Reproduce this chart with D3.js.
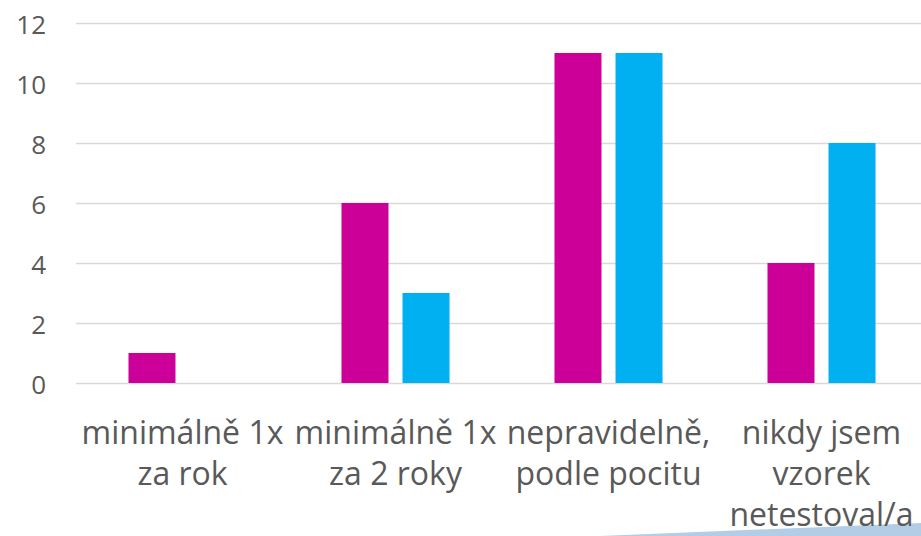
<!DOCTYPE html>
<html>
<head>
<meta charset="utf-8">
<script src="https://cdn.jsdelivr.net/npm/d3@7"></script>
<style>
  html, body { margin: 0; padding: 0; background: #fff; overflow: hidden; }
  text { font-family: "Open Sans", Lato, sans-serif; fill: #595959; }
</style>
</head>
<body>
<div id="chart"></div>
<script>
// data
const categories = [
    ["minimálně 1x", "za rok"],
    ["minimálně 1x", "za 2 roky"],
    ["nepravidelně,", "podle pocitu"],
    ["nikdy jsem", "vzorek", "netestoval/a"]
];
const seriesA = [1, 6, 11, 4];   // magenta
const seriesB = [0, 3, 11, 8];   // cyan
const yTicks = [0, 2, 4, 6, 8, 10, 12];

const width = 921;
const height = 536;
const plotLeft = 76, plotRight = 928, plotTop = 23, plotBottom = 383;

const svg = d3.select("#chart")
    .append("svg")
    .attr("width", width)
    .attr("height", height);

// decorative wedge at the bottom right
svg.append("path")
    .attr("d", "M600,536 L921,523 L921,536 Z")
    .attr("fill", "#b4cde6");

const x = d3.scaleBand()
    .domain(d3.range(categories.length))
    .range([plotLeft, plotRight]);

const inner = d3.scaleBand()
    .domain([0, 1])
    .range([0, x.bandwidth()])
    .paddingInner(0.23)
    .paddingOuter(0.86);

const y = d3.scaleLinear()
    .domain([0, 12])
    .range([plotBottom, plotTop]);

// gridlines
svg.append("g")
    .selectAll("line")
    .data(yTicks)
    .join("line")
    .attr("x1", plotLeft)
    .attr("x2", width)
    .attr("y1", d => Math.round(y(d)) + 0.5)
    .attr("y2", d => Math.round(y(d)) + 0.5)
    .attr("stroke", "#d9d9d9")
    .attr("stroke-width", 1.5);

// y labels
svg.append("g")
    .selectAll("text")
    .data(yTicks)
    .join("text")
    .attr("x", 46)
    .attr("y", d => y(d) + 2)
    .attr("dy", "0.35em")
    .attr("text-anchor", "end")
    .style("font-size", "26px")
    .text(d => d);

// bars
const series = [
    { values: seriesA, color: "#cc0099" },
    { values: seriesB, color: "#00b0f0" }
];
series.forEach((s, si) => {
    svg.append("g")
        .selectAll("rect")
        .data(s.values)
        .join("rect")
        .attr("x", (d, i) => x(i) + inner(si))
        .attr("width", inner.bandwidth())
        .attr("y", d => y(d))
        .attr("height", d => y(0) - y(d))
        .attr("fill", s.color);
});

// category labels
const labels = svg.append("g")
    .selectAll("text")
    .data(categories)
    .join("text")
    .attr("text-anchor", "middle")
    .style("font-size", "32px");

labels.each(function(lines, i) {
    d3.select(this).selectAll("tspan")
        .data(lines)
        .join("tspan")
        .attr("x", x(i) + x.bandwidth() / 2)
        .attr("y", (d, j) => 444 + j * 41)
        .text(d => d);
});
</script>
</body>
</html>
